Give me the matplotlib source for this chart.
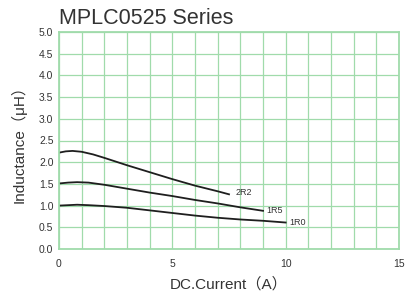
import matplotlib.pyplot as plt

plt.rcParams['font.family'] = ['Liberation Sans', 'Noto Sans CJK JP', 'DejaVu Sans']

i_2r2 = [0, 0.3, 0.6, 1, 1.5, 2, 3, 4, 5, 6, 7, 7.5]
l_2r2 = [2.22, 2.25, 2.26, 2.24, 2.18, 2.10, 1.93, 1.77, 1.61, 1.46, 1.33, 1.26]

i_1r5 = [0, 0.4, 0.8, 1.3, 2, 3, 4, 5, 6, 7, 8, 9]
l_1r5 = [1.51, 1.53, 1.54, 1.53, 1.48, 1.39, 1.30, 1.22, 1.13, 1.05, 0.96, 0.88]

i_1r0 = [0, 0.4, 0.8, 1.3, 2, 3, 4, 5, 6, 7, 8, 9, 10]
l_1r0 = [1.00, 1.01, 1.02, 1.01, 0.99, 0.95, 0.89, 0.83, 0.77, 0.72, 0.68, 0.65, 0.61]

names = ['2R2', '1R5', '1R0']
label_pos = [(7.8, 1.30), (9.15, 0.88), (10.15, 0.61)]

fig = plt.figure(figsize=(4.07, 2.96), dpi=100)
ax = fig.add_axes([59 / 407, 1 - 249 / 296, 340 / 407, 217 / 296])

grid_col = '#a0dbab'
ax.set_xlim(0, 15)
ax.set_ylim(0, 5)
ax.set_xticks(range(0, 16))
ax.set_xticklabels([str(v) if v % 5 == 0 else '' for v in range(0, 16)])
ax.set_yticks([v / 2 for v in range(11)])
ax.set_yticklabels(['%.1f' % (v / 2) for v in range(11)])
ax.grid(True, color=grid_col, linewidth=0.9)
ax.tick_params(length=0, labelsize=7.5, colors='#333333', pad=4)
ax.tick_params(axis='x', pad=7)
for s in ax.spines.values():
    s.set_color(grid_col)
    s.set_linewidth(1.3)

for xs, ys in [(i_2r2, l_2r2), (i_1r5, l_1r5), (i_1r0, l_1r0)]:
    ax.plot(xs, ys, color='#1e1e1e', linewidth=1.3)

for name, (x, y) in zip(names, label_pos):
    ax.text(x, y, name, fontsize=6.5, color='#333333', va='center', ha='left')

ax.set_xlabel('DC.Current（A）', fontsize=11, color='#333333', labelpad=6)
ax.set_ylabel('Inductance（μH）', fontsize=11, color='#333333', labelpad=9)
fig.text(59 / 407, 1 - 19 / 296, 'MPLC0525 Series', fontsize=15.5, color='#333333', va='center')

fig.savefig('out.png', dpi=100)
